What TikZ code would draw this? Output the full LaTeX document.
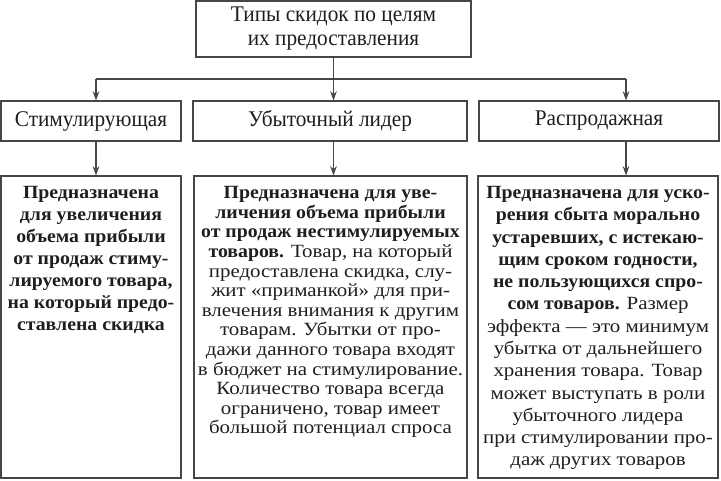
\documentclass[tikz,border=0pt]{standalone}
\usepackage{fontspec}
\setmainfont[FakeStretch=1.12,BoldFeatures={FakeStretch=1.06}]{Liberation Serif}
\newfontfamily\headfont[FakeStretch=0.95]{Liberation Serif}
\usetikzlibrary{positioning,arrows.meta}
\definecolor{ink}{RGB}{30,30,30}
\definecolor{frame}{RGB}{70,70,70}

\begin{document}
\begin{tikzpicture}[x=0.75pt,y=-0.75pt,
  box/.style={draw=frame,line width=0.8pt,inner sep=0pt},
  head/.style={box,font=\headfont\fontsize{16.8}{18}\selectfont,text=ink,align=center},
  body/.style={inner sep=0pt,align=center,text=ink,anchor=north},
  arr/.style={draw=frame,line width=0.8pt,-{Stealth[length=7pt,width=5pt]}}]
\useasboundingbox (0,0) rectangle (721,480);
\node[head,minimum width=206.25pt,minimum height=42pt] (top) at (333.5,29) {Типы скидок по целям\\их предоставления};
\node[head,minimum width=135pt,minimum height=30pt] (stim) at (91,121) {Стимулирующая};
\node[head,minimum width=205.5pt,minimum height=30pt] (lead) at (330,121) {Убыточный лидер};
\node[head,minimum width=180pt,minimum height=30pt] (sale) at (599,121) {Распродажная};
\node[box,minimum width=135pt,minimum height=226.5pt] (stimd) at (91,327) {};
\node[box,minimum width=204.75pt,minimum height=226.5pt] (leadd) at (330.5,327) {};
\node[box,minimum width=180pt,minimum height=226.5pt] (saled) at (598,327) {};
% descriptions
\node[body,font=\bfseries\fontsize{14}{16.5}\selectfont] (stimt) at ([yshift=-8pt]stimd.north) {%
  Предназначена\\для увеличения\\объема прибыли\\от продаж стиму-\\лируемого товара,\\на который предо-\\ставлена скидка};
\node[body,font=\fontsize{14}{14.7}\selectfont] (leadt) at ([yshift=-8pt]leadd.north) {%
  \textbf{Предназначена для уве-}\\\textbf{личения объема прибыли}\\
  \textbf{от продаж нестимулируемых}\\\textbf{товаров.} Товар, на который\\
  предоставлена скидка, слу-\\жит «приманкой» для при-\\
  влечения внимания к другим\\товарам. Убытки от про-\\
  дажи данного товара входят\\в бюджет на стимулирование.\\
  Количество товара всегда\\ограничено, товар имеет\\большой потенциал спроса};
\node[body,font=\fontsize{14}{16.7}\selectfont] (salet) at ([yshift=-8pt]saled.north) {%
  \textbf{Предназначена для уско-}\\\textbf{рения сбыта морально}\\
  \textbf{устаревших, с истекаю-}\\\textbf{щим сроком годности,}\\
  \textbf{не пользующихся спро-}\\\textbf{сом товаров.} Размер\\
  эффекта — это минимум\\убытка от дальнейшего\\хранения товара. Товар\\
  может выступать в роли\\убыточного лидера\\при стимулировании про-\\даж других товаров};
% connectors
\coordinate (jl) at (96,79);
\coordinate (jr) at (626,79);
\draw[arr] (top.south) -- (top.south |- lead.north);
\draw[draw=frame,line width=0.8pt] (jl) -- (jr);
\draw[arr] (jl) -- (jl |- stim.north);
\draw[arr] (jr) -- (jr |- sale.north);
\draw[arr] (jl |- stim.south) -- (jl |- stimd.north);
\draw[arr] (top.south |- lead.south) -- (top.south |- leadd.north);
\draw[arr] (jr |- sale.south) -- (jr |- saled.north);
\end{tikzpicture}
\end{document}
